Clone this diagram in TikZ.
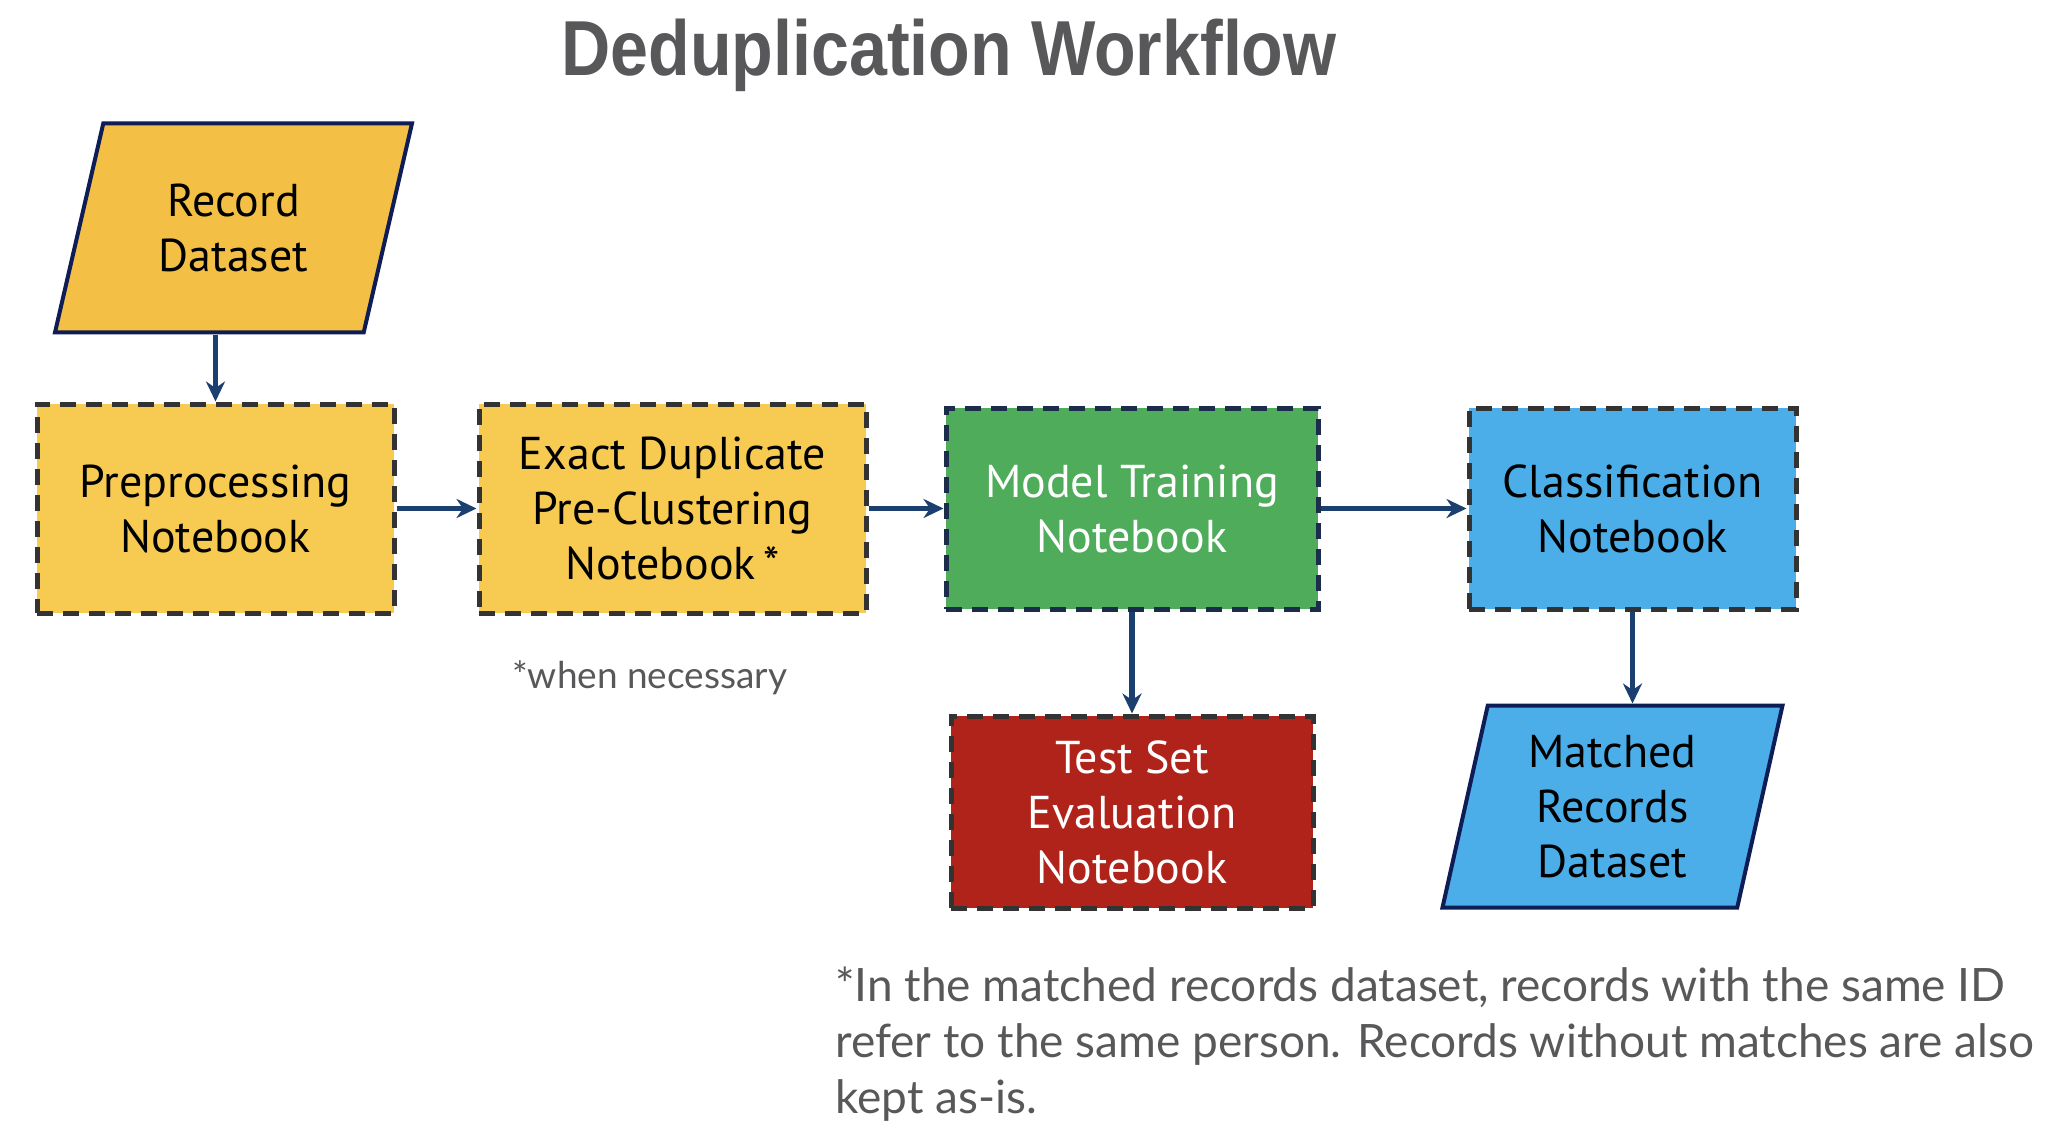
\documentclass[tikz,border=0pt]{standalone}
\usepackage{fontspec}
\setmainfont{PT Sans}
\newfontfamily\titlefont{Liberation Sans}
\newfontfamily\notefont{Lato}
\usetikzlibrary{shapes.geometric, positioning, arrows.meta}
\definecolor{goldfill}{HTML}{F4BF45}
\definecolor{yellowfill}{HTML}{F7CB52}
\definecolor{greenfill}{HTML}{4FAC5B}
\definecolor{bluefill}{HTML}{4BAEE8}
\definecolor{redfill}{HTML}{B0231A}
\definecolor{dashgray}{HTML}{333333}
\definecolor{dashnavy}{HTML}{1C2D4C}
\definecolor{navyline}{HTML}{0E1D55}
\definecolor{arrownavy}{HTML}{1B3F6E}
\definecolor{titlegray}{HTML}{58585A}
\tikzset{
    >={Stealth[length=20pt,width=19pt]}, % arrow heads
    flow/.style={->, line width=5.5pt, draw=arrownavy}, % connectors between steps
    notebook/.style={rectangle, draw=dashgray, dash pattern=on 16pt off 10pt, line width=5pt,
        align=center, font=\fontsize{46}{55}\selectfont}, % dashed notebook boxes
    dataset/.style={trapezium, trapezium stretches=true, draw=navyline, line width=4pt,
        align=center, font=\fontsize{46}{55}\selectfont}, % input and output data
    remark/.style={text=titlegray, inner sep=0pt}, % grey notes
}
\begin{document}
\begin{tikzpicture}[x=1pt, y=-1pt]
\useasboundingbox (0,0) rectangle (2058,1124);

\node[font=\titlefont\bfseries\fontsize{78}{78}\selectfont, text=titlegray, anchor=base] (title) at (949,76) {\scalebox{0.874}[1]{Deduplication Workflow}};

\node[notebook, fill=yellowfill, minimum width=357pt, minimum height=209pt] (pre) at (215.5,508.5) {Preprocessing\\Notebook};
\node[dataset, fill=goldfill, trapezium left angle=73, trapezium right angle=107, minimum width=358pt, minimum height=209pt, above=67pt of pre, xshift=18pt] (rec) {Record\\Dataset};
\node[notebook, fill=yellowfill, minimum width=387pt, minimum height=209pt, right=80pt of pre] (exact) {Exact Duplicate\\Pre-Clustering\\Notebook\,*};
\node[notebook, fill=greenfill, draw=dashnavy, text=white, minimum width=372pt, minimum height=201pt, right=75pt of exact] (model) {Model Training\\Notebook};
\node[notebook, fill=bluefill, minimum width=327pt, minimum height=201pt, right=146pt of model] (class) {Classification\\Notebook};
\node[notebook, fill=redfill, text=white, minimum width=362pt, minimum height=192pt, below=102pt of model] (test) {Test Set\\Evaluation\\Notebook};
\node[dataset, fill=bluefill, trapezium left angle=78, trapezium right angle=102, minimum width=341pt, minimum height=202pt, below=92pt of class, xshift=-20pt] (matched) {Matched\\Records\\Dataset};

\node[remark, font=\notefont\fontsize{37}{45}\selectfont, anchor=base west] (when) at (512,688) {*when necessary};
\node[remark, font=\notefont\fontsize{46}{56}\selectfont, anchor=base west, align=left] (foot) at (835,1113) {*In the matched records dataset, records with the same ID\\refer to the same person. Records without matches are also\\kept as-is.};

\draw[flow] (pre.north |- rec.south) -- (pre.north);
\draw[flow] (pre.east) -- (exact.west);
\draw[flow] (exact.east) -- (model.west);
\draw[flow] (model.east) -- (class.west);
\draw[flow] (model.south) -- (test.north);
\draw[flow] (class.south) -- (class.south |- matched.north);
\end{tikzpicture}
\end{document}
